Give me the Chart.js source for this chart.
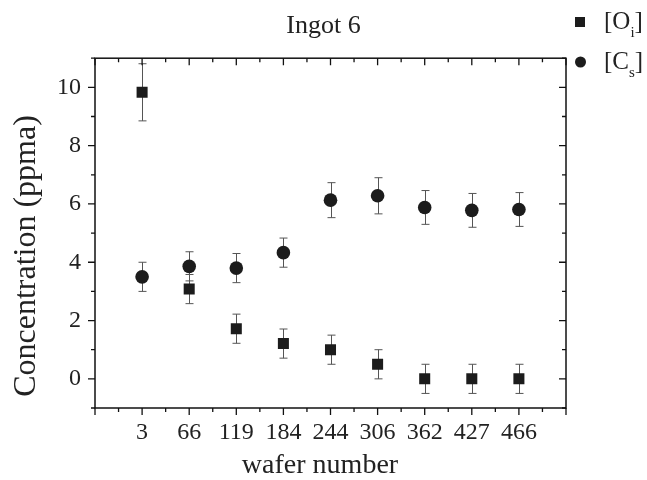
<!DOCTYPE html>
<html>
<head>
<meta charset="utf-8">
<script src="https://cdn.jsdelivr.net/npm/chart.js@4/dist/chart.umd.min.js"></script>
<style>
  html, body { margin: 0; padding: 0; background: #fff; }
  #ingot-chart { display: block; }
</style>
</head>
<body>
<canvas id="ingot-chart" width="647" height="480"></canvas>
<script>
// wafer positions along the ingot (categories)
const waferLabels = ['3', '66', '119', '184', '244', '306', '362', '427', '466'];

// interstitial oxygen [Oi], ppma
const oxygenValues = [9.83, 3.08, 1.72, 1.21, 1.0, 0.5, 0, 0, 0];
const oxygenErrors = [0.98, 0.5, 0.5, 0.5, 0.5, 0.5, 0.5, 0.5, 0.5];

// substitutional carbon [Cs], ppma
const carbonValues = [3.5, 3.86, 3.8, 4.33, 6.13, 6.28, 5.88, 5.78, 5.81];
const carbonErrors = [0.5, 0.5, 0.5, 0.5, 0.6, 0.62, 0.58, 0.58, 0.58];

const yTickValues = [0, 2, 4, 6, 8, 10];

const legendMain = ['O', 'C'];
const legendSub = ['i', 's'];

const FONT = '"Liberation Serif", "Times New Roman", serif';
const TEXT = '#222';
const INK = '#1c1c1c';

function toPoints(values) {
    return values.map((v, i) => ({ x: i + 1, y: v }));
}

// error bars, frame, tick marks, axis titles and legend
const decorations = {
    id: 'decorations',
    beforeDatasetsDraw(chart) {
        const ctx = chart.ctx;
        const ys = chart.scales.y;
        const errs = [oxygenErrors, carbonErrors];
        ctx.save();
        ctx.strokeStyle = '#555';
        ctx.lineWidth = 1;
        chart.data.datasets.forEach((ds, d) => {
            chart.getDatasetMeta(d).data.forEach((pt, i) => {
                const v = ds.data[i].y;
                const yTop = ys.getPixelForValue(v + errs[d][i]);
                const yBot = ys.getPixelForValue(v - errs[d][i]);
                const x = Math.round(pt.x) + 0.5;
                ctx.beginPath();
                ctx.moveTo(x, yTop); ctx.lineTo(x, yBot);
                ctx.moveTo(x - 4, yTop); ctx.lineTo(x + 4, yTop);
                ctx.moveTo(x - 4, yBot); ctx.lineTo(x + 4, yBot);
                ctx.stroke();
            });
        });
        ctx.restore();
    },
    afterDraw(chart) {
        const ctx = chart.ctx;
        const xs = chart.scales.x, ys = chart.scales.y;
        const { left, right, top, bottom } = chart.chartArea;
        ctx.save();

        // frame
        ctx.strokeStyle = '#111';
        ctx.lineWidth = 1.5;
        ctx.strokeRect(left, top, right - left, bottom - top);

        // tick marks: outward on bottom/left, inward on top/right
        ctx.lineWidth = 1.3;
        ctx.beginPath();
        for (let v = 0; v <= 10; v += 0.5) {
            const px = xs.getPixelForValue(v);
            const len = Number.isInteger(v) ? 7 : 4;
            ctx.moveTo(px, bottom); ctx.lineTo(px, bottom + len);
            ctx.moveTo(px, top); ctx.lineTo(px, top + len);
        }
        for (let v = -1; v <= 11; v++) {
            const py = ys.getPixelForValue(v);
            const len = v % 2 === 0 ? 7 : 4;
            ctx.moveTo(left - len, py); ctx.lineTo(left, py);
            ctx.moveTo(right - len, py); ctx.lineTo(right, py);
        }
        ctx.stroke();

        // axis titles
        ctx.fillStyle = TEXT;
        ctx.textAlign = 'center';
        ctx.textBaseline = 'middle';
        ctx.font = '28px ' + FONT;
        ctx.fillText('wafer number', 320, 466);
        ctx.save();
        ctx.translate(27, 256);
        ctx.rotate(-Math.PI / 2);
        ctx.font = '32px ' + FONT;
        ctx.fillText('Concentration (ppma)', 0, 0);
        ctx.restore();

        // legend
        const rows = [22, 62];
        ctx.fillStyle = INK;
        ctx.fillRect(575, rows[0] - 5, 10, 10);
        ctx.beginPath();
        ctx.arc(580.5, rows[1], 5.5, 0, Math.PI * 2);
        ctx.fill();
        ctx.fillStyle = TEXT;
        ctx.textAlign = 'left';
        rows.forEach((ry, k) => {
            let x = 604;
            ctx.font = '25px ' + FONT;
            const head = '[' + legendMain[k];
            ctx.fillText(head, x, ry);
            x += ctx.measureText(head).width;
            ctx.font = '15px ' + FONT;
            ctx.fillText(legendSub[k], x, ry + 11);
            x += ctx.measureText(legendSub[k]).width;
            ctx.font = '25px ' + FONT;
            ctx.fillText(']', x, ry);
        });
        ctx.restore();
    }
};

const tickFont = { family: FONT, size: 24 };

new Chart(document.getElementById('ingot-chart'), {
    type: 'scatter',
    data: {
        datasets: [
            {
                label: '[Oi]',
                data: toPoints(oxygenValues),
                pointStyle: 'rect',
                pointRadius: 7.8,
                backgroundColor: INK,
                borderColor: INK,
                borderWidth: 0,
            },
            {
                label: '[Cs]',
                data: toPoints(carbonValues),
                pointStyle: 'circle',
                pointRadius: 6.8,
                backgroundColor: INK,
                borderColor: INK,
                borderWidth: 0,
            },
        ],
    },
    options: {
        responsive: false,
        animation: false,
        devicePixelRatio: 1,
        layout: { padding: 0 },
        plugins: {
            legend: { display: false },
            tooltip: { enabled: false },
            title: {
                display: true,
                text: 'Ingot 6',
                color: TEXT,
                font: { family: FONT, size: 26, weight: 'normal' },
                padding: { top: 11, bottom: 16 },
            },
        },
        scales: {
            x: {
                type: 'linear',
                position: 'bottom',
                min: 0,
                max: 10,
                afterFit: s => { s.height = 72; },
                afterBuildTicks: s => { s.ticks = waferLabels.map((l, i) => ({ value: i + 1 })); },
                ticks: {
                    autoSkip: false,
                    maxRotation: 0,
                    padding: 10,
                    color: TEXT,
                    font: tickFont,
                    callback: v => waferLabels[v - 1],
                },
                grid: { display: false, drawTicks: false },
                border: { display: false },
            },
            y: {
                type: 'linear',
                position: 'left',
                min: -1,
                max: 11,
                afterFit: s => { s.width = 95; },
                afterBuildTicks: s => { s.ticks = yTickValues.map(v => ({ value: v })); },
                ticks: {
                    autoSkip: false,
                    padding: 14,
                    color: TEXT,
                    font: tickFont,
                },
                grid: { display: false, drawTicks: false },
                border: { display: false },
            },
            y2: {
                type: 'linear',
                position: 'right',
                afterFit: s => { s.width = 81; },
                ticks: { display: false },
                grid: { display: false, drawTicks: false },
                border: { display: false },
            },
        },
    },
    plugins: [decorations],
});
</script>
</body>
</html>
